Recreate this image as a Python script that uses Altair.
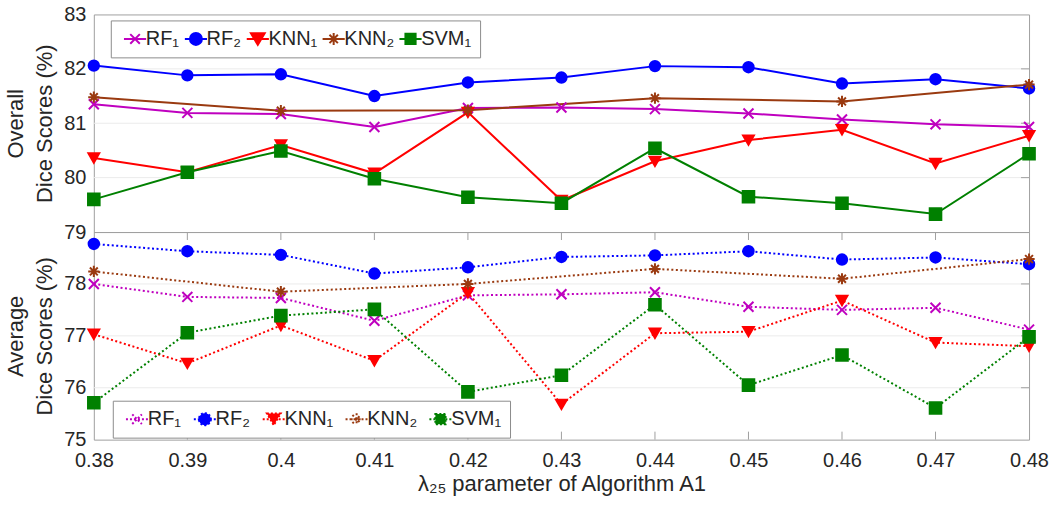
import altair as alt
import pandas as pd

# ---------------- data ----------------
x_vals = [0.38, 0.39, 0.40, 0.41, 0.42, 0.43, 0.44, 0.45, 0.46, 0.47, 0.48]
x_even = [0.38, 0.40, 0.42, 0.44, 0.46, 0.48]

overall_rf1 = [81.35, 81.19, 81.17, 80.93, 81.28, 81.29, 81.26, 81.18, 81.07, 80.98, 80.93]
overall_rf2 = [82.06, 81.88, 81.90, 81.50, 81.75, 81.84, 82.05, 82.03, 81.73, 81.81, 81.64]
overall_knn1 = [80.36, 80.10, 80.60, 80.08, 81.20, 79.58, 80.30, 80.69, 80.88, 80.26, 80.77]
overall_knn2 = [81.48, 81.23, 81.24, 81.46, 81.40, 81.71]
overall_svm1 = [79.60, 80.10, 80.49, 79.98, 79.64, 79.53, 80.54, 79.65, 79.53, 79.33, 80.44]

avg_rf1 = [78.00, 77.75, 77.73, 77.29, 77.78, 77.80, 77.84, 77.56, 77.50, 77.54, 77.12]
avg_rf2 = [78.77, 78.63, 78.56, 78.20, 78.32, 78.52, 78.55, 78.63, 78.47, 78.51, 78.38]
avg_knn1 = [77.03, 76.47, 77.20, 76.52, 77.83, 75.68, 77.05, 77.08, 77.68, 76.87, 76.80]
avg_knn2 = [78.24, 77.85, 78.00, 78.29, 78.10, 78.48]
avg_svm1 = [75.71, 77.06, 77.39, 77.51, 75.92, 76.24, 77.60, 76.05, 76.63, 75.61, 76.98]

SERIES = ["RF₁", "RF₂", "KNN₁", "KNN₂", "SVM₁"]
top_ticks = [79, 80, 81, 82, 83]
bottom_ticks = [75, 76, 77, 78, 79]

# ---------------- styling ----------------
COLORS = ["#bf00bf", "#0000ff", "#ff0000", "#9a3a10", "#008000"]
X_PATH = "M-1,-1L1,1M-1,1L1,-1"
STAR_PATH = "M-1,0L1,0M0,-1L0,1M-0.7,-0.7L0.7,0.7M-0.7,0.7L0.7,-0.7"
MARK_SHAPES = [X_PATH, "circle", "triangle-down", STAR_PATH, "square"]
MARK_SIZES = [100, 135, 180, 150, 95]

# legend glyphs: line segment with the marker in its middle (unit = 6 px)
LINE = "M-0.8,0L2.9,0"
LEG_SHAPES = [
    LINE + "M0.25,-0.8L1.85,0.8M0.25,0.8L1.85,-0.8",
    LINE + "M2.05,0A1 1 0 1 1 0.05,0A1 1 0 1 1 2.05,0Z",
    LINE + "M-0.1,-0.95L2.2,-0.95L1.05,1Z",
    LINE + "M0.05,0L2.05,0M1.05,-1L1.05,1M0.35,-0.7L1.75,0.7M0.35,0.7L1.75,-0.7",
    LINE + "M0.2,-0.85L1.9,-0.85L1.9,0.85L0.2,0.85Z",
]

FONT = "Liberation Sans"
TXT = "#262626"
AX = "#a0a0a0"
GRID = "#ebebeb"
W = 937


def long_df(rf1, rf2, knn1, knn2, svm1):
    rows = []
    for name, xs, ys in zip(SERIES, [x_vals, x_vals, x_vals, x_even, x_vals],
                            [rf1, rf2, knn1, knn2, svm1]):
        for xv, yv in zip(xs, ys):
            rows.append({"x": xv, "y": yv, "series": name})
    return pd.DataFrame(rows)


def panel(df, ticks_y, label_vals, height, dashed, title_lines, lx, ly, show_x, colpad):
    xs = alt.Scale(domain=[x_vals[0], x_vals[-1]], nice=False, zero=False)
    ys = alt.Scale(domain=[ticks_y[0], ticks_y[-1]], nice=False, zero=False)
    cscale = alt.Scale(domain=SERIES, range=COLORS)
    if show_x:
        xaxis = alt.Axis(values=x_vals, labelExpr="format(datum.value, '.2~f')",
                         title="λ₂₅ parameter of Algorithm A1", tickSize=0,
                         domain=False, grid=False, labelPadding=11, titlePadding=3,
                         labelFlush=False)
    else:
        xaxis = None
    yaxis = alt.Axis(values=label_vals, format="d", title=title_lines, tickSize=0,
                     domain=False, grid=False, labelPadding=8, titlePadding=7,
                     titleLineHeight=29, labelFlush=False)
    x = alt.X("x:Q", scale=xs, axis=xaxis)
    y = alt.Y("y:Q", scale=ys, axis=yaxis)

    tl_y = (ticks_y[-1] - ticks_y[0]) * 8.0 / height
    tl_x = (x_vals[-1] - x_vals[0]) * 8.0 / W

    grid_df = pd.DataFrame({"y": ticks_y[1:-1]})
    grid = alt.Chart(grid_df).mark_rule(color=GRID, strokeWidth=1).encode(y=y)

    right_df = pd.DataFrame({"y": ticks_y[1:-1]})
    right_df["x"] = x_vals[-1]
    right_df["x2"] = x_vals[-1] - tl_x
    rticks = alt.Chart(right_df).mark_rule(color=AX, strokeWidth=1).encode(
        x=x, x2="x2:Q", y=y)

    layers = [grid, rticks]
    if show_x:
        tdf = pd.DataFrame({"x": x_vals[1:-1]})
        tdf["y"] = ticks_y[-1]
        tdf["y2"] = ticks_y[-1] - tl_y
        bdf = pd.DataFrame({"x": x_vals[1:-1]})
        bdf["y"] = ticks_y[0]
        bdf["y2"] = ticks_y[0] + tl_y
        for d in (tdf, bdf):
            layers.append(alt.Chart(d).mark_rule(color=AX, strokeWidth=1).encode(
                x=x, y=y, y2="y2:Q"))

    line_kw = dict(strokeWidth=2)
    if dashed:
        line_kw["strokeDash"] = [2, 2.5]
    lines = alt.Chart(df).mark_line(**line_kw).encode(
        x=x, y=y,
        stroke=alt.Stroke("series:N", scale=cscale, legend=None),
        detail="series:N",
    )
    pts = alt.Chart(df).mark_point(filled=True, opacity=1, strokeWidth=2).encode(
        x=x, y=y,
        fill=alt.Fill("series:N", scale=cscale, legend=None),
        stroke=alt.Stroke("series:N", scale=cscale, legend=None),
        shape=alt.Shape("series:N", scale=alt.Scale(domain=SERIES, range=MARK_SHAPES), legend=None),
        size=alt.Size("series:N", scale=alt.Scale(domain=SERIES, range=MARK_SIZES), legend=None),
    )
    layers += [lines, pts]
    main = alt.layer(*layers)

    leg_kw = dict(
        orient="none", legendX=lx, legendY=ly, direction="horizontal", columns=5,
        title=None, labelFont=FONT, labelFontSize=20, labelColor=TXT,
        symbolSize=144, symbolStrokeWidth=2, labelOffset=7, columnPadding=colpad,
        strokeColor="#8c8c8c", fillColor="white", padding=8, symbolOffset=0,
    )
    if dashed:
        leg_kw["symbolDash"] = [2, 2]
    legend = alt.Legend(**leg_kw)
    leg_layer = alt.Chart(df).transform_filter("false").mark_point(
        filled=True, opacity=1, strokeWidth=2, size=144).encode(
        x=x, y=y,
        fill=alt.Fill("series:N", scale=cscale, legend=legend),
        stroke=alt.Stroke("series:N", scale=cscale, legend=legend),
        shape=alt.Shape("series:N", scale=alt.Scale(domain=SERIES, range=LEG_SHAPES), legend=legend),
    )
    return alt.layer(main, leg_layer).resolve_scale(
        fill="independent", stroke="independent", shape="independent"
    ).properties(width=W, height=height)


top = panel(long_df(overall_rf1, overall_rf2, overall_knn1, overall_knn2, overall_svm1),
            top_ticks, top_ticks, 218, False, ["Overall", "Dice Scores (%)"], 17, 6, False, -1)
bottom = panel(long_df(avg_rf1, avg_rf2, avg_knn1, avg_knn2, avg_svm1),
               bottom_ticks, bottom_ticks[:-1], 208, True, ["Average", "Dice Scores (%)"],
               19, 169, True, 7)

chart = alt.vconcat(top, bottom, spacing=0, bounds="flush").resolve_scale(
    fill="independent", stroke="independent", shape="independent", size="independent"
).properties(
    background="white", padding={"left": 4, "top": 3, "right": 4, "bottom": 4}
).configure_view(
    stroke=AX, strokeWidth=1
).configure_axis(
    labelFont=FONT, labelFontSize=20, labelColor=TXT,
    titleFont=FONT, titleFontSize=22, titleColor=TXT, titleFontWeight="normal",
)

chart.save("out.html", embed_options={"renderer": "svg", "actions": False})
